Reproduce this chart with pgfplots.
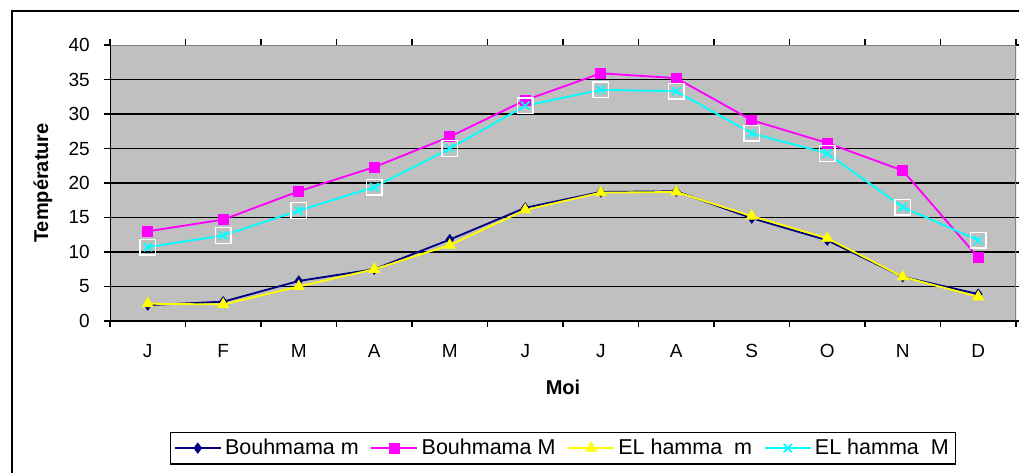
\documentclass[border=0pt]{standalone}
\usepackage{fontspec}
\setmainfont{Liberation Sans}
\usepackage{pgfplots}
\pgfplotsset{compat=1.18}
\definecolor{plotgray}{RGB}{192,192,192}
\definecolor{bnavy}{RGB}{0,0,128}
\definecolor{bmag}{RGB}{255,0,255}
\definecolor{eyel}{RGB}{255,255,0}
\definecolor{ecyan}{RGB}{0,255,255}

\begin{document}
\begin{tikzpicture}
\useasboundingbox (0,0) rectangle (611.4pt,283.8pt);
\clip (0,0) rectangle (611.4pt,283.8pt);
\draw[line width=0.9pt] (7.2pt,-10pt) rectangle (625pt,277.2pt);
\begin{axis}[
    at={(66pt,91.2pt)}, anchor=south west,
    scale only axis, width=543.6pt, height=165.6pt,
    xmin=0.5, xmax=12.5, ymin=0, ymax=40,
    ytick={0,5,...,35}, extra y ticks={40},
    extra y tick style={grid=none},
    ymajorgrids, grid style={black, line width=0.9pt},
    xtick={1,...,12},
    xticklabels={J,F,M,A,M,J,J,A,S,O,N,D},
    minor xtick={0.5,1.5,...,12.5},
    major x tick style={draw=none},
    minor x tick style={black, line width=0.8pt},
    ytick style={black, line width=0.8pt},
    tick align=outside, major tick length=3.6pt, minor tick length=3.6pt,
    axis line style={draw=none},
    axis background/.style={fill=plotgray},
    /pgf/number format/assume math mode=true,
    tick label style={font=\fontsize{11.4}{13}\selectfont},
    yticklabel style={xshift=-5pt},
    xticklabel style={yshift=-7pt},
    xlabel={\textbf{Moi}},
    ylabel={\textbf{Température}},
    label style={font=\fontsize{12}{14}\selectfont},
    xlabel style={at={(axis description cs:0.5,-0.239)}, anchor=center},
    ylabel style={at={(axis description cs:-0.074,0.5)}, anchor=center},
    legend columns=4,
    legend style={at={(axis description cs:0.5,-0.401)}, anchor=north,
        draw=black, line width=0.9pt, font=\fontsize{12.9}{15}\selectfont,
        inner sep=2pt,
        /tikz/every even column/.append style={column sep=5pt}},
    legend image code/.code={\draw[mark repeat=2,mark phase=2,#1]
        plot coordinates {(0pt,0pt) (13.8pt,0pt) (27.6pt,0pt)};},
]
\addplot[bnavy, line width=1.1pt, mark=diamond*, mark size=3pt,
    mark options={fill=bnavy, line width=0.5pt}] coordinates {
    (1,2.3) (2,2.8) (3,5.8) (4,7.5) (5,11.8) (6,16.4)
    (7,18.7) (8,18.8) (9,14.9) (10,11.7) (11,6.4) (12,3.9)};
\addlegendentry{Bouhmama m}
\addplot[bmag, line width=1.1pt, mark=square*, mark size=3pt,
    mark options={fill=bmag, line width=0.5pt}] coordinates {
    (1,13.0) (2,14.7) (3,18.8) (4,22.3) (5,26.7) (6,32.0)
    (7,35.9) (8,35.2) (9,29.1) (10,25.8) (11,21.8) (12,9.2)};
\addlegendentry{Bouhmama M}
\addplot[eyel, line width=1.1pt, mark=triangle*, mark size=3.7pt,
    mark options={fill=eyel, line width=0.5pt}] coordinates {
    (1,2.5) (2,2.4) (3,5.0) (4,7.5) (5,11.0) (6,16.1)
    (7,18.6) (8,18.7) (9,15.2) (10,12.0) (11,6.4) (12,3.5)};
\addlegendentry{EL hamma~~m}
\addplot[white, only marks, mark=square, mark size=4.7pt,
    mark options={line width=0.8pt}, forget plot] coordinates {
    (1,10.7) (2,12.4) (3,16.0) (4,19.4) (5,25.0) (6,31.2)
    (7,33.5) (8,33.3) (9,27.2) (10,24.3) (11,16.5) (12,11.7)};
\addplot[ecyan, line width=1.1pt, mark=x, mark size=3.5pt,
    mark options={line width=1pt}] coordinates {
    (1,10.7) (2,12.4) (3,16.0) (4,19.4) (5,25.0) (6,31.2)
    (7,33.5) (8,33.3) (9,27.2) (10,24.3) (11,16.5) (12,11.7)};
\addlegendentry{EL hamma~~M}
\draw[gray, line width=0.8pt] (rel axis cs:0,1) -- (rel axis cs:1,1) -- (rel axis cs:1,0);
\draw[black, line width=1.2pt] (rel axis cs:0,1) -- (rel axis cs:0,0) -- (rel axis cs:1,0);
\end{axis}
\end{tikzpicture}
\end{document}
